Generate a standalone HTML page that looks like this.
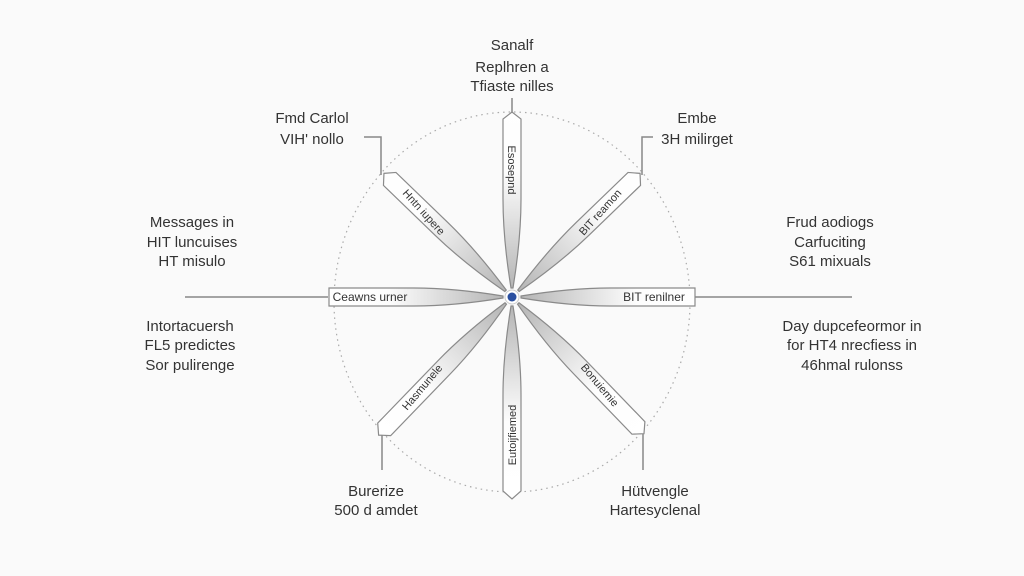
<!DOCTYPE html>
<html><head><meta charset="utf-8"><style>
html,body{margin:0;padding:0;background:#fafafa;}
svg{display:block;}
text{font-family:"Liberation Sans",sans-serif;fill:#333;}
</style></head><body>
<svg width="1024" height="576" viewBox="0 0 1024 576">
<defs>
<linearGradient id="g" gradientUnits="userSpaceOnUse" x1="520" y1="0" x2="700" y2="0">
<stop offset="0" stop-color="#b4b4b4"/><stop offset="0.4" stop-color="#e2e2e2"/><stop offset="0.65" stop-color="#fdfdfd"/><stop offset="1" stop-color="#ffffff"/>
</linearGradient>
</defs>
<rect width="1024" height="576" fill="#fafafa"/>
<ellipse cx="512" cy="302" rx="178" ry="190" fill="none" stroke="#aaa" stroke-width="1.2" stroke-dasharray="1.5 4"/>
<g stroke="#888" stroke-width="1.5" fill="none">
<line x1="512" y1="98" x2="512" y2="112"/>
<polyline points="364,137 381,137 381,175"/>
<polyline points="653,137 642,137 642,175"/>
<line x1="185" y1="297" x2="328" y2="297"/>
<line x1="695" y1="297" x2="852" y2="297"/>
<line x1="382" y1="435" x2="382" y2="470"/>
<line x1="643" y1="432" x2="643" y2="470"/>
</g>
<g fill="url(#g)" stroke="#8a8a8a" stroke-width="1.2">
<path transform="rotate(0 512 297)" d="M521,296 Q570,288 610,288 L695,288 L695,306 L610,306 Q570,306 521,298 Z"/>
<path transform="rotate(180 512 297)" d="M521,296 Q570,288 610,288 L695,288 L695,306 L610,306 Q570,306 521,298 Z"/>
<path transform="rotate(-90 512 297)" d="M521,296 Q570,288 610,288 L690,288 L697,297 L690,306 L610,306 Q570,306 521,298 Z"/>
<path transform="rotate(90 512 297)" d="M521,296 Q570,288 610,288 L706,288 L714,297 L706,306 L610,306 Q570,306 521,298 Z"/>
<path transform="rotate(-44 512 297)" d="M521,296 Q570,288 610,288 L682,288 L690,297 L682,306 L610,306 Q570,306 521,298 Z"/>
<path transform="rotate(-136 512 297)" d="M521,296 Q570,288 610,288 L682,288 L690,297 L682,306 L610,306 Q570,306 521,298 Z"/>
<path transform="rotate(46 512 297)" d="M521,296 Q570,288 610,288 L694,288 L702,297 L694,306 L610,306 Q570,306 521,298 Z"/>
<path transform="rotate(134 512 297)" d="M521,296 Q570,288 610,288 L696,288 L704,297 L696,306 L610,306 Q570,306 521,298 Z"/>
</g>
<circle cx="512" cy="297" r="7" fill="#fff" stroke="#ccc"/>
<circle cx="512" cy="297" r="4.5" fill="#2a4fa0"/>
<g font-size="11" text-anchor="middle">
<text x="512" y="170" transform="rotate(90 512 170)" dy="4">Esosepnd</text>
<text x="600" y="212" transform="rotate(-48 600 212)" dy="4">BIT reamon</text>
<text x="654" y="297" dy="4" font-size="12">BIT renilner</text>
<text x="600" y="385" transform="rotate(50 600 385)" dy="4">Bonuiemie</text>
<text x="512" y="435" transform="rotate(-90 512 435)" dy="4">Eutoijfiemed</text>
<text x="422" y="387" transform="rotate(-50 422 387)" dy="4">Hasmunele</text>
<text x="370" y="297" dy="4" font-size="12">Ceawns urner</text>
<text x="424" y="212" transform="rotate(48 424 212)" dy="4">Hntn iupere</text>
</g>
<g font-size="15" text-anchor="middle">
<text x="512" y="50">Sanalf</text><text x="512" y="72">Replhren a</text><text x="512" y="91">Tfiaste nilles</text>
<text x="312" y="123">Fmd Carlol</text><text x="312" y="144">VIH' nollo</text>
<text x="697" y="123">Embe</text><text x="697" y="144">3H milirget</text>
<text x="192" y="227">Messages in</text><text x="192" y="247">HIT luncuises</text><text x="192" y="266">HT misulo</text>
<text x="190" y="331">Intortacuersh</text><text x="190" y="350">FL5 predictes</text><text x="190" y="370">Sor pulirenge</text>
<text x="830" y="227">Frud aodiogs</text><text x="830" y="247">Carfuciting</text><text x="830" y="266">S61 mixuals</text>
<text x="852" y="331">Day dupcefeormor in</text><text x="852" y="350">for HT4 nrecfiess in</text><text x="852" y="370">46hmal rulonss</text>
<text x="376" y="496">Burerize</text><text x="376" y="515">500 d amdet</text>
<text x="655" y="496">Hütvengle</text><text x="655" y="515">Hartesyclenal</text>
</g>
</svg>
</body></html>
